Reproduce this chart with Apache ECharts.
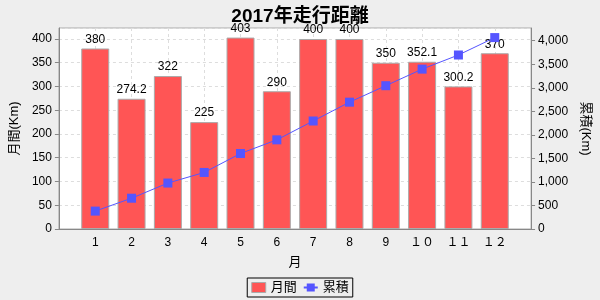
<!DOCTYPE html>
<html><head><meta charset="utf-8">
<script src="https://cdn.jsdelivr.net/npm/echarts@6/dist/echarts.min.js"></script>
<style>html,body{margin:0;padding:0;background:#eeeeee;}#c{width:600px;height:300px;}</style>
</head><body><div id="c"></div>
<script>
const months = ['1','2','3','4','5','6','7','8','9','１０','１１','１２'];
const monthly = [380, 274.2, 322, 225, 403, 290, 400, 400, 350, 352.1, 300.2, 370];
const cumulative = [380, 654.2, 976.2, 1201.2, 1604.2, 1894.2, 2294.2, 2694.2, 3044.2, 3396.3, 3696.5, 4066.5];
const leftTicks = [0, 50, 100, 150, 200, 250, 300, 350, 400];
const rightTicks = [0, 500, 1000, 1500, 2000, 2500, 3000, 3500, 4000];

const FONT = "'Liberation Sans', 'Noto Sans CJK JP', sans-serif";
const chart = echarts.init(document.getElementById('c'), null, {renderer: 'canvas'});
chart.setOption({
  backgroundColor: '#eeeeee',
  textStyle: {fontFamily: FONT},
  animation: false,
  title: {
    text: '2017年走行距離', left: 'center', top: 2,
    textStyle: {fontSize: 19, fontWeight: 'bold', color: '#000', fontFamily: FONT}
  },
  legend: {
    bottom: 3, left: 'center',
    borderColor: '#000', borderWidth: 1, padding: [3, 4],
    itemGap: 6, itemWidth: 14, itemHeight: 10,
    textStyle: {fontSize: 13, color: '#000', fontFamily: FONT},
    data: [
      {name: '月間', icon: 'rect', itemStyle: {color: '#ff5555', borderColor: '#aaaaaa', borderWidth: 1}},
      {name: '累積'}
    ]
  },
  grid: {
    left: 55, right: 65, top: 28, bottom: 71,
    show: true, backgroundColor: '#ffffff', borderColor: '#aaaaaa', borderWidth: 1,
    containLabel: false
  },
  xAxis: {
    type: 'value', min: 0, max: 13, interval: 1,
    name: '月', nameLocation: 'middle', nameGap: 27,
    nameTextStyle: {fontSize: 13, color: '#000'},
    axisLine: {show: true, lineStyle: {color: '#888888'}},
    axisTick: {show: false},
    axisLabel: {
      fontSize: 12, color: '#000', margin: 8,
      formatter: v => months[v - 1] || ''
    },
    splitLine: {show: true, lineStyle: {color: '#dddddd', type: [3, 3]}}
  },
  yAxis: [
    {
      type: 'value', min: 0, max: 423.15, interval: 50,
      name: '月間(Km)', nameLocation: 'middle', nameGap: 34, nameRotate: 90,
      nameTextStyle: {fontSize: 13, color: '#000'},
      axisLine: {show: true, lineStyle: {color: '#888888'}},
      axisTick: {show: true, length: 4, lineStyle: {color: '#888888'}},
      axisLabel: {
        fontSize: 12, color: '#000', margin: 7, showMaxLabel: false,
        formatter: v => leftTicks.includes(v) ? String(v) : ''
      },
      splitLine: {show: true, lineStyle: {color: '#dddddd', type: [3, 3]}}
    },
    {
      type: 'value', min: 0, max: 4270, interval: 500,
      name: '累積(Km)', nameLocation: 'middle', nameGap: 47, nameRotate: -90,
      nameTextStyle: {fontSize: 13, color: '#000'},
      axisLine: {show: true, lineStyle: {color: '#888888'}},
      axisTick: {show: true, length: 4, lineStyle: {color: '#888888'}},
      axisLabel: {
        fontSize: 12, color: '#000', margin: 7, showMaxLabel: false,
        formatter: v => rightTicks.includes(v) ? v.toLocaleString('en-US') : ''
      },
      splitLine: {show: false}
    }
  ],
  series: [
    {
      name: '月間', type: 'bar', yAxisIndex: 0, barWidth: 28,
      itemStyle: {color: '#ff5555', borderColor: '#aaaaaa', borderWidth: 1},
      label: {show: true, position: 'top', distance: 3, fontSize: 12, color: '#000', fontFamily: FONT},
      data: monthly.map((v, i) => [i + 1, v]),
      z: 2
    },
    {
      name: '累積', type: 'line', yAxisIndex: 1,
      symbol: 'rect', symbolSize: 9, showSymbol: true,
      itemStyle: {color: '#5555ff'},
      lineStyle: {color: '#5555ff', width: 1},
      data: cumulative.map((v, i) => [i + 1, v]),
      z: 3
    }
  ]
});
</script></body></html>
